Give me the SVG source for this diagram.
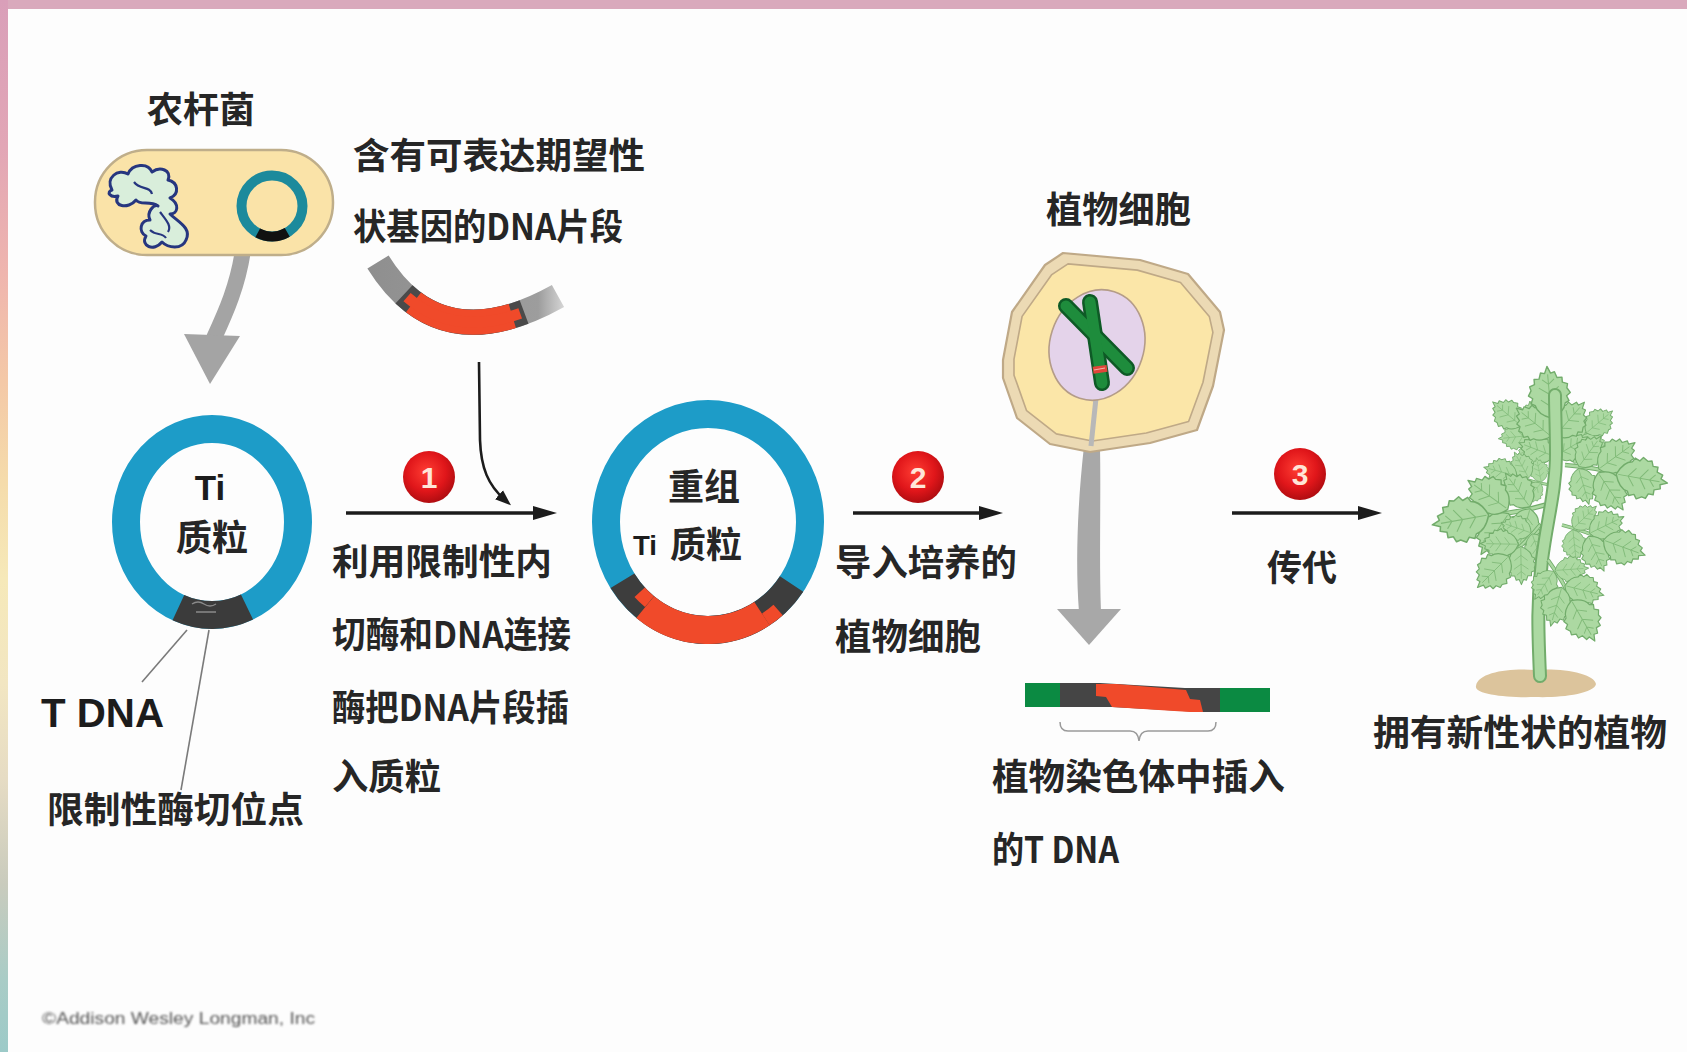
<svg xmlns="http://www.w3.org/2000/svg" width="1687" height="1052" viewBox="0 0 1687 1052">
<defs>
  <style>
    .cn { font-family: 'Noto Sans CJK SC', 'Noto Sans CJK JP', sans-serif; font-size: 36px; font-weight: 700; fill: #262626; }
    .lat { font-family: 'Liberation Sans', Arial, sans-serif; font-weight: 700; fill: #1c1c1c; }
    .num { font-family: 'Liberation Sans', Arial, sans-serif; font-weight: 700; font-size: 30px; fill: #ffe6d8; text-anchor: middle; }
    .ring { fill: none; stroke: #1d9cc8; stroke-width: 28; }
    .seg { fill: none; stroke-linecap: butt; }
    .step { stroke: #1c1c1c; stroke-width: 3.5; fill: none; }
    .pointer { stroke: #7a7a7a; stroke-width: 1.6; fill: none; }
  </style>
  <linearGradient id="sideBand" x1="0" y1="0" x2="0" y2="1">
    <stop offset="0" stop-color="#d99fb9"/>
    <stop offset="0.14" stop-color="#e2a6b6"/>
    <stop offset="0.26" stop-color="#efb5ae"/>
    <stop offset="0.36" stop-color="#f4c8a7"/>
    <stop offset="0.46" stop-color="#f5dcab"/>
    <stop offset="0.55" stop-color="#f6e9b9"/>
    <stop offset="0.65" stop-color="#f2e6c2"/>
    <stop offset="0.74" stop-color="#e6dcc4"/>
    <stop offset="0.84" stop-color="#c9cbbd"/>
    <stop offset="0.93" stop-color="#a9ccc6"/>
    <stop offset="1" stop-color="#9ccac8"/>
  </linearGradient>
  <radialGradient id="redBall" cx="0.45" cy="0.4" r="0.62">
    <stop offset="0" stop-color="#ff3d33"/>
    <stop offset="0.6" stop-color="#e0161a"/>
    <stop offset="1" stop-color="#ad0c10"/>
  </radialGradient>
  <linearGradient id="fragFade" gradientUnits="userSpaceOnUse" x1="370" y1="0" x2="568" y2="0">
    <stop offset="0" stop-color="#8f8f8f"/>
    <stop offset="0.85" stop-color="#9d9d9d"/>
    <stop offset="1" stop-color="#dedede"/>
  </linearGradient>
  <marker id="arrowHead" markerUnits="userSpaceOnUse" markerWidth="26" markerHeight="18" refX="14" refY="9" orient="auto">
    <path d="M0,2 L24,9 L0,16 Z" fill="#1c1c1c"/>
  </marker>
  <marker id="arrowHeadSmall" markerUnits="userSpaceOnUse" markerWidth="18" markerHeight="14" refX="8" refY="7" orient="auto">
    <path d="M0,1 L16,7 L0,13 Z" fill="#1c1c1c"/>
  </marker>
  <filter id="soft" x="-5%" y="-50%" width="110%" height="200%">
    <feGaussianBlur stdDeviation="0.8"/>
  </filter>
  <!-- broad lobed leaflet pointing along +x -->
  <g id="leaflet">
    <path d="M0,0 C3,-8 8,-14 14,-15 L16,-19 L21,-17 L24,-21 L29,-18 L33,-19 L35,-14 L40,-14 L40,-9 L46,-7 L45,-3 L52,0 L45,3 L46,7 L40,9 L40,14 L35,14 L33,19 L29,18 L24,21 L21,17 L16,19 L14,15 C8,14 3,8 0,0 Z" fill="#acd9a2" stroke="#72ac6b" stroke-width="1.4" stroke-linejoin="round"/>
    <path d="M2,0 L44,0 M12,0 L19,-9 M24,0 L31,-10 M12,0 L19,9 M24,0 L31,10 M34,0 L39,-6 M34,0 L39,6" fill="none" stroke="#80ba78" stroke-width="1"/>
  </g>
  <!-- compound leaf: rachis with paired leaflets -->
  <g id="compoundLeaf">
    <path d="M0,0 Q30,-3 56,0" fill="none" stroke="#72ac6b" stroke-width="4.5"/>
    <path d="M0,0 Q30,-3 56,0" fill="none" stroke="#acd9a2" stroke-width="2.5"/>
    <use href="#leaflet" transform="translate(14,-1) rotate(-64) scale(0.72)"/>
    <use href="#leaflet" transform="translate(14,1) rotate(64) scale(0.72)"/>
    <use href="#leaflet" transform="translate(34,-2) rotate(-46) scale(0.86)"/>
    <use href="#leaflet" transform="translate(34,2) rotate(46) scale(0.86)"/>
    <use href="#leaflet" transform="translate(52,0) scale(1.0)"/>
  </g>
</defs>

<!-- page background and frame bands -->
<rect x="0" y="0" width="1687" height="1052" fill="#fdfdfd"/>
<rect x="0" y="0" width="1687" height="9" fill="#d9a9bc"/>
<rect x="0" y="0" width="8" height="1052" fill="url(#sideBand)"/>

<!-- connectors -->
<g id="connectors">
  <!-- bacterium to Ti plasmid -->
  <path d="M243,250 C238,285 226,312 214,338" fill="none" stroke="#a4a4a4" stroke-width="16"/>
  <polygon points="184,334 240,336 210,384" fill="#a4a4a4"/>
  <!-- gene fragment to step 1 -->
  <path d="M479,362 L480,440 C481,468 488,485 505,500" fill="none" stroke="#1c1c1c" stroke-width="2.6" marker-end="url(#arrowHeadSmall)"/>
  <!-- step arrows -->
  <line class="step" x1="346" y1="513" x2="547" y2="513" marker-end="url(#arrowHead)"/>
  <line class="step" x1="853" y1="513" x2="993" y2="513" marker-end="url(#arrowHead)"/>
  <line class="step" x1="1232" y1="513" x2="1372" y2="513" marker-end="url(#arrowHead)"/>
  <!-- plant cell to chromosome -->
  <path d="M1084,446 C1078,500 1075,560 1079,612 L1101,612 C1099,560 1101,500 1100,446 Z" fill="#a8a8a8"/>
  <polygon points="1057,609 1121,609 1089,645" fill="#a8a8a8"/>
  <!-- label pointers on Ti plasmid -->
  <line class="pointer" x1="187" y1="630" x2="142" y2="682"/>
  <line class="pointer" x1="209" y1="630" x2="181" y2="790"/>
</g>

<!-- step markers -->
<g id="step1">
  <circle cx="429" cy="477" r="26" fill="url(#redBall)"/>
  <text class="num" x="429" y="488">1</text>
</g>
<g id="step2">
  <circle cx="918" cy="477" r="26" fill="url(#redBall)"/>
  <text class="num" x="918" y="488">2</text>
</g>
<g id="step3">
  <circle cx="1300" cy="474" r="26" fill="url(#redBall)"/>
  <text class="num" x="1300" y="485">3</text>
</g>

<!-- Agrobacterium cell -->
<g id="agrobacterium">
  <text class="cn" x="147" y="123" textLength="108" lengthAdjust="spacingAndGlyphs">农杆菌</text>
  <rect x="95" y="150" width="238" height="105" rx="52" fill="#fae3a8" stroke="#bfae8a" stroke-width="2.5"/>
  <path d="M112,190 C105,178 118,168 128,174 C132,164 148,162 152,172 C160,166 172,170 168,180 C178,182 180,194 170,198 C180,204 178,214 170,214 C178,222 192,228 186,240 C182,250 168,248 162,242 C154,252 140,246 146,236 C138,232 140,220 150,220 C146,212 154,204 158,206 C150,200 140,206 136,200 C128,210 112,206 118,196 C110,198 106,192 112,190 Z" fill="#d9eedb" stroke="#26367f" stroke-width="3" stroke-linejoin="round"/>
  <path d="M134,182 C140,190 150,186 152,194 M160,212 C166,220 172,226 168,232 M150,230 C156,236 162,232 166,238" fill="none" stroke="#26367f" stroke-width="2.2"/>
  <circle cx="272" cy="206" r="30.5" fill="none" stroke="#1c8a9c" stroke-width="10"/>
  <path class="seg" d="M287.3,232.4 A30.5,30.5 0 0 1 257.7,232.9" stroke="#111" stroke-width="10"/>
</g>

<!-- Ti plasmid -->
<g id="ti-plasmid">
  <ellipse class="ring" cx="212" cy="522" rx="86" ry="93"/>
  <path class="seg" d="M247,607 A86,93 0 0 1 178.4,607.6" stroke="#3b3b3b" stroke-width="28"/>
  <path d="M192,604 q6,-4 12,0 t12,0 M196,612 h20" fill="none" stroke="#8a8a8a" stroke-width="1.4"/>
  <text class="lat" x="210" y="500" font-size="35" text-anchor="middle">Ti</text>
  <text class="cn" x="212" y="551" text-anchor="middle">质粒</text>
</g>

<g id="tdna-label">
  <text class="lat" x="41" y="727" font-size="40" textLength="123" lengthAdjust="spacingAndGlyphs">T DNA</text>
</g>
<g id="cut-site-label">
  <text class="cn" x="47" y="823" textLength="257" lengthAdjust="spacingAndGlyphs">限制性酶切位点</text>
</g>

<!-- gene fragment -->
<g id="gene-fragment">
  <text class="cn" x="353" y="169" textLength="292" lengthAdjust="spacingAndGlyphs">含有可表达期望性</text>
  <text class="cn" x="353" y="240" textLength="270" lengthAdjust="spacingAndGlyphs">状基因的DNA片段</text>
  <path d="M378,262 Q440,362 558,296" fill="none" stroke="url(#fragFade)" stroke-width="25"/>
  <path d="M378,262 Q440,362 558,296" pathLength="100" fill="none" stroke="#4a4a4a" stroke-width="25" stroke-dasharray="62 200" stroke-dashoffset="-20"/>
  <path d="M378,262 Q440,362 558,296" pathLength="100" fill="none" stroke="#f04a2a" stroke-width="25" stroke-dasharray="50 200" stroke-dashoffset="-26"/>
  <path d="M378,262 Q440,362 558,296" pathLength="100" fill="none" stroke="#f04a2a" stroke-width="11" stroke-dasharray="58 200" stroke-dashoffset="-22"/>
</g>

<!-- step 1 caption -->
<g id="step1-caption">
  <text class="cn" x="332" y="575" textLength="220" lengthAdjust="spacingAndGlyphs">利用限制性内</text>
  <text class="cn" x="332" y="648" textLength="239" lengthAdjust="spacingAndGlyphs">切酶和DNA连接</text>
  <text class="cn" x="332" y="721" textLength="237" lengthAdjust="spacingAndGlyphs">酶把DNA片段插</text>
  <text class="cn" x="332" y="790" textLength="109" lengthAdjust="spacingAndGlyphs">入质粒</text>
</g>

<!-- recombinant Ti plasmid -->
<g id="recombinant-plasmid">
  <ellipse class="ring" cx="708" cy="522" rx="102" ry="108"/>
  <path class="seg" d="M791.6,584 A102,108 0 0 1 622.5,580.8" stroke="#3d3d3d" stroke-width="28"/>
  <path class="seg" d="M762,613.6 A102,108 0 0 1 645.2,607.1" stroke="#f04a2a" stroke-width="28"/>
  <path class="seg" d="M778.1,610.1 A109,115 0 0 1 765.8,619.5" stroke="#f04a2a" stroke-width="14"/>
  <path class="seg" d="M649.5,601.6 A95,101 0 0 1 639.7,592.2" stroke="#f04a2a" stroke-width="14"/>
  <text class="cn" x="704" y="500" text-anchor="middle">重组</text>
  <text class="lat" x="633" y="555" font-size="28" textLength="24" lengthAdjust="spacingAndGlyphs">Ti</text>
  <text class="cn" x="670" y="558" textLength="72" lengthAdjust="spacingAndGlyphs">质粒</text>
</g>

<!-- step 2 caption -->
<g id="step2-caption">
  <text class="cn" x="835" y="576" textLength="182" lengthAdjust="spacingAndGlyphs">导入培养的</text>
  <text class="cn" x="835" y="650" textLength="146" lengthAdjust="spacingAndGlyphs">植物细胞</text>
</g>

<!-- plant cell -->
<g id="plant-cell">
  <text class="cn" x="1046" y="223" textLength="145" lengthAdjust="spacingAndGlyphs">植物细胞</text>
  <polygon points="1003,360 1012,312 1045,265 1063,253 1140,260 1188,274 1220,312 1224,330 1213,386 1197,430 1150,443 1090,452 1050,444 1017,418 1003,378" fill="#ecdab4" stroke="#bfa987" stroke-width="2.2" stroke-linejoin="round"/>
  <polygon points="1003,360 1012,312 1045,265 1063,253 1140,260 1188,274 1220,312 1224,330 1213,386 1197,430 1150,443 1090,452 1050,444 1017,418 1003,378" transform="translate(1113 352) scale(0.9 0.89) translate(-1113 -352)" fill="#fbe6a8" stroke="#bfa987" stroke-width="1.8" stroke-linejoin="round"/>
  <line x1="1096" y1="398" x2="1091" y2="446" stroke="#b8b8b8" stroke-width="5"/>
  <ellipse cx="1097" cy="345" rx="47" ry="56" transform="rotate(18 1097 345)" fill="#e4d3ea" stroke="#b49c88" stroke-width="1.6"/>
  <g stroke-linecap="round">
    <line x1="1066" y1="306" x2="1127" y2="368" stroke="#0e5a26" stroke-width="16"/>
    <line x1="1090" y1="302" x2="1102" y2="383" stroke="#0e5a26" stroke-width="16"/>
    <line x1="1066" y1="306" x2="1127" y2="368" stroke="#1e8c3c" stroke-width="11"/>
    <line x1="1090" y1="302" x2="1102" y2="383" stroke="#1e8c3c" stroke-width="11"/>
  </g>
  <rect x="1093" y="366" width="14" height="7" transform="rotate(-8 1099 369)" fill="#e2453a"/>
  <line x1="1094" y1="370" x2="1105" y2="368" stroke="#f3b3a8" stroke-width="1.2"/>
</g>

<!-- chromosome with inserted T-DNA -->
<g id="chromosome-insert">
  <polygon points="1025,683 1100,683 1185,688 1270,688 1270,712 1200,712 1112,707 1025,707" fill="#454545"/>
  <rect x="1025" y="683" width="35" height="24" fill="#0b8a42"/>
  <rect x="1220" y="688" width="50" height="24" fill="#0b8a42"/>
  <polygon points="1096,684 1116,684 1186,690 1190,699 1200,700 1203,712 1190,712 1112,707 1106,697 1096,696" fill="#f04a2a"/>
  <path d="M1060,722 Q1060,731 1068,731 L1130,731 Q1138,731 1139,741 Q1140,731 1148,731 L1208,731 Q1216,731 1216,722" fill="none" stroke="#9a9a9a" stroke-width="1.5"/>
  <text class="cn" x="992" y="790" textLength="293" lengthAdjust="spacingAndGlyphs">植物染色体中插入</text>
  <text class="cn" x="992" y="863" textLength="127" lengthAdjust="spacingAndGlyphs">的T DNA</text>
</g>

<!-- step 3 caption -->
<g id="step3-caption">
  <text class="cn" x="1267" y="581" textLength="70" lengthAdjust="spacingAndGlyphs">传代</text>
</g>

<!-- transgenic plant -->
<g id="transgenic-plant">
  <path d="M1476,686 C1478,672 1510,668 1535,670 C1565,668 1594,674 1596,684 C1594,694 1560,698 1535,697 C1505,698 1474,694 1476,686 Z" fill="#dcc49c"/>
  <use href="#compoundLeaf" transform="translate(1550,450) rotate(-140) scale(0.72)"/>
  <use href="#compoundLeaf" transform="translate(1560,455) rotate(-40) scale(0.66)"/>
  <use href="#compoundLeaf" transform="translate(1556,470) rotate(-95) scale(1.0)"/>
  <use href="#compoundLeaf" transform="translate(1565,465) rotate(10) scale(1.0)"/>
  <use href="#compoundLeaf" transform="translate(1562,525) rotate(20) scale(0.85)"/>
  <use href="#compoundLeaf" transform="translate(1550,485) rotate(-165) scale(0.66)"/>
  <use href="#compoundLeaf" transform="translate(1545,505) rotate(170) scale(1.1)"/>
  <use href="#compoundLeaf" transform="translate(1540,525) rotate(135) scale(0.85)"/>
  <path d="M1540,676 C1538,630 1537,600 1542,560 C1547,520 1556,490 1556,455 C1556,430 1555,410 1555,395" fill="none" stroke="#72ac6b" stroke-width="14" stroke-linecap="round"/>
  <path d="M1540,676 C1538,630 1537,600 1542,560 C1547,520 1556,490 1556,455 C1556,430 1555,410 1555,395" fill="none" stroke="#acd9a2" stroke-width="10" stroke-linecap="round"/>
  <use href="#compoundLeaf" transform="translate(1548,560) rotate(60) scale(0.9)"/>
  <text class="cn" x="1373" y="746" textLength="294" lengthAdjust="spacingAndGlyphs">拥有新性状的植物</text>
</g>

<!-- credit line -->
<g id="credit">
  <text x="42" y="1024" font-family="'Liberation Sans', Arial, sans-serif" font-size="16" fill="#555" textLength="273" lengthAdjust="spacingAndGlyphs" filter="url(#soft)">©Addison Wesley Longman, Inc</text>
</g>
</svg>
